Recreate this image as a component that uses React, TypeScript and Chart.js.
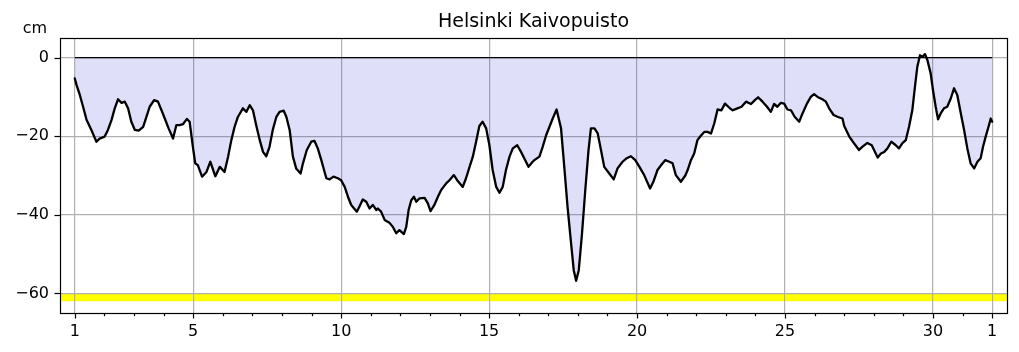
import React, { useEffect, useRef } from 'react';
import { Chart, registerables } from 'chart.js';

Chart.register(...registerables);

const chartTitle = 'Helsinki Kaivopuisto';
const unitLabel = 'cm';

// time in days of month (1 .. 32 = 1st of next month)
const days = [
  1.00, 1.06, 1.17, 1.28, 1.40, 1.56, 1.73, 1.84, 2.01, 2.12, 2.24, 2.35, 2.46, 2.58, 2.69, 2.80, 2.91,
  3.03, 3.16, 3.31, 3.42, 3.53, 3.68, 3.81, 3.93, 4.04, 4.17, 4.32, 4.43, 4.54, 4.66, 4.79, 4.88, 4.99,
  5.07, 5.16, 5.30, 5.45, 5.58, 5.75, 5.90, 6.06, 6.18, 6.29, 6.40, 6.51, 6.68, 6.80, 6.91, 7.02, 7.13,
  7.25, 7.36, 7.47, 7.58, 7.69, 7.81, 7.92, 8.06, 8.15, 8.26, 8.37, 8.48, 8.63, 8.71, 8.84, 8.99, 9.10,
  9.21, 9.33, 9.50, 9.61, 9.74, 9.89, 10.00, 10.12, 10.23, 10.34, 10.53, 10.62, 10.73, 10.85, 10.96, 11.07,
  11.19, 11.24, 11.35, 11.47, 11.63, 11.75, 11.86, 11.97, 12.12, 12.20, 12.28, 12.37, 12.46, 12.54, 12.65,
  12.82, 12.93, 13.02, 13.15, 13.27, 13.38, 13.55, 13.66, 13.81, 13.92, 14.11, 14.22, 14.34, 14.45, 14.56,
  14.67, 14.78, 14.90, 15.01, 15.12, 15.24, 15.35, 15.46, 15.57, 15.69, 15.80, 15.95, 16.08, 16.22, 16.33,
  16.47, 16.53, 16.70, 16.81, 16.93, 17.04, 17.15, 17.28, 17.43, 17.54, 17.65, 17.77, 17.86, 17.94, 18.03,
  18.14, 18.25, 18.36, 18.44, 18.56, 18.67, 18.78, 18.89, 19.06, 19.21, 19.34, 19.51, 19.65, 19.79, 19.94,
  20.08, 20.24, 20.44, 20.55, 20.69, 20.81, 20.95, 21.09, 21.20, 21.31, 21.48, 21.63, 21.71, 21.82, 21.93,
  22.04, 22.14, 22.27, 22.38, 22.50, 22.61, 22.72, 22.85, 22.97, 23.11, 23.23, 23.39, 23.53, 23.68, 23.85,
  23.98, 24.09, 24.24, 24.39, 24.52, 24.63, 24.74, 24.86, 24.97, 25.08, 25.20, 25.33, 25.48, 25.59, 25.74,
  25.87, 25.98, 26.10, 26.26, 26.38, 26.49, 26.64, 26.79, 26.94, 27.00, 27.17, 27.33, 27.50, 27.61, 27.78,
  27.93, 28.04, 28.13, 28.24, 28.35, 28.46, 28.59, 28.74, 28.85, 28.96, 29.08, 29.19, 29.30, 29.39, 29.47,
  29.56, 29.64, 29.73, 29.81, 29.92, 30.00, 30.09, 30.17, 30.26, 30.37, 30.48, 30.60, 30.71, 30.82, 30.94,
  31.05, 31.16, 31.27, 31.39, 31.50, 31.61, 31.69, 31.78, 31.89, 31.95, 32.00,
];

// sea level, cm
const levels = [
  -5.3, -7.0, -9.5, -12.5, -15.9, -18.4, -21.4, -20.6, -20.1, -18.4, -15.9, -12.9, -10.6, -11.5, -11.2, -12.9, -16.3,
  -18.4, -18.6, -17.6, -15.1, -12.5, -10.8, -11.2, -13.4, -15.5, -18.0, -20.6, -17.2, -17.2, -16.9, -15.6, -16.3, -22.7,
  -26.9, -27.4, -30.3, -29.1, -26.5, -30.2, -27.8, -29.1, -25.2, -21.0, -17.6, -15.1, -12.9, -13.8, -12.1, -13.4, -17.2,
  -21.0, -24.0, -25.1, -22.7, -18.4, -15.1, -13.8, -13.5, -15.1, -18.4, -25.2, -28.2, -29.5, -26.9, -23.5, -21.4, -21.2,
  -23.1, -26.1, -30.7, -31.0, -30.3, -30.7, -31.2, -32.9, -35.4, -37.5, -39.2, -37.9, -36.1, -36.7, -38.4, -37.5,
  -38.8, -38.4, -39.2, -41.3, -42.0, -43.1, -44.7, -43.9, -44.9, -43.1, -38.8, -36.3, -35.4, -36.7, -35.8,
  -35.7, -37.1, -39.1, -37.5, -35.4, -33.7, -32.0, -31.2, -29.9, -31.2, -32.9, -30.7, -27.8, -25.2, -21.4,
  -17.4, -16.3, -18.0, -22.3, -28.6, -32.9, -34.4, -32.9, -28.6, -25.2, -23.1, -22.3, -24.0, -26.1, -27.8,
  -26.5, -26.1, -25.2, -22.7, -19.7, -17.6, -15.5, -13.2, -18.0, -27.8, -37.9, -47.3, -54.1, -56.8, -54.1,
  -44.7, -33.7, -23.5, -18.0, -18.0, -19.3, -23.5, -27.8, -29.5, -31.0, -28.2, -26.5, -25.6, -25.1, -26.1,
  -27.8, -29.9, -33.3, -31.6, -28.6, -27.4, -26.1, -26.5, -26.9, -29.9, -31.6, -30.0, -28.6, -26.1, -24.4,
  -21.0, -20.0, -18.9, -18.9, -19.3, -16.7, -13.2, -13.4, -11.7, -12.7, -13.4, -12.9, -12.5, -11.2, -11.8,
  -10.8, -10.1, -11.2, -12.5, -13.8, -11.8, -12.5, -11.5, -11.7, -13.2, -13.4, -15.1, -16.3, -14.2, -11.7,
  -10.0, -9.3, -10.0, -10.6, -11.2, -12.9, -14.6, -15.1, -15.5, -17.4, -20.1, -21.8, -23.5, -22.7, -21.7,
  -22.3, -24.0, -25.4, -24.4, -24.0, -23.1, -21.4, -22.3, -23.1, -21.8, -21.0, -17.6, -13.4, -7.4, -2.3,
  0.6, 0.2, 0.9, -0.6, -4.0, -8.3, -12.5, -15.7, -14.2, -12.9, -12.5, -10.4, -7.8, -9.5, -14.2,
  -18.4, -23.1, -26.9, -28.2, -26.5, -25.6, -22.7, -20.1, -17.2, -15.5, -16.3,
];

const dayTicks = [1, 2, 3, 4, 5, 6, 7, 8, 9, 10, 11, 12, 13, 14, 15, 16, 17, 18, 19, 20, 21, 22, 23, 24, 25, 26, 27, 28, 29, 30, 31, 32];
const majorDays = [1, 5, 10, 15, 20, 25, 30, 32];
const majorLabels = ['1', '5', '10', '15', '20', '25', '30', '1'];
const yTicks = [-60, -40, -20, 0];
const yellowBand = [-62, -60];
const xRange = [0.5, 32.5];
const yRange = [-65, 5];

const FONT = "'DejaVu Sans', sans-serif";

const decor = {
  id: 'decor',
  beforeDraw(chart: any) {
    const { ctx, chartArea: a, scales } = chart;
    const y = scales.y;
    const yTop = y.getPixelForValue(yellowBand[1]);
    const yBot = y.getPixelForValue(yellowBand[0]);
    ctx.save();
    ctx.fillStyle = '#ffff00';
    ctx.fillRect(a.left, yTop, a.right - a.left, yBot - yTop);
    ctx.restore();
  },
  afterDraw(chart: any) {
    const { ctx, chartArea: a, scales } = chart;
    const x = scales.x;
    const y = scales.y;
    ctx.save();
    ctx.strokeStyle = '#000';
    ctx.lineWidth = 1.2;
    dayTicks.forEach((d) => {
      const px = Math.round(x.getPixelForValue(d)) + 0.5;
      const len = majorDays.includes(d) ? 5.5 : 3.2;
      ctx.beginPath();
      ctx.moveTo(px, a.bottom);
      ctx.lineTo(px, a.bottom + len);
      ctx.stroke();
    });
    yTicks.forEach((v) => {
      const py = Math.round(y.getPixelForValue(v)) + 0.5;
      ctx.beginPath();
      ctx.moveTo(a.left - 5.5, py);
      ctx.lineTo(a.left, py);
      ctx.stroke();
    });
    ctx.strokeRect(Math.round(a.left) + 0.5, Math.round(a.top) + 0.5, Math.round(a.right - a.left), Math.round(a.bottom - a.top));
    ctx.fillStyle = '#000';
    ctx.font = `19px ${FONT}`;
    ctx.textAlign = 'center';
    ctx.textBaseline = 'alphabetic';
    ctx.fillText(chartTitle, (a.left + a.right) / 2, 27);
    ctx.font = `16px ${FONT}`;
    ctx.fillText(unitLabel, 35, 33);
    ctx.restore();
  },
};

export default function App() {
  const ref = useRef<HTMLCanvasElement>(null);
  useEffect(() => {
    const chart = new Chart(ref.current as HTMLCanvasElement, {
      type: 'line',
      data: {
        datasets: [
          {
            data: days.map((d, i) => ({ x: d, y: levels[i] })),
            borderColor: '#000',
            borderWidth: 2.3,
            borderJoinStyle: 'round',
            borderCapStyle: 'round',
            pointRadius: 0,
            tension: 0,
            fill: { value: 0 },
            backgroundColor: 'rgba(30,30,220,0.14)',
            order: 1,
          },
          {
            data: [
              { x: days[0], y: 0 },
              { x: days[days.length - 1], y: 0 },
            ],
            borderColor: '#000',
            borderWidth: 1.3,
            pointRadius: 0,
            fill: false,
            order: 0,
          },
        ],
      },
      options: {
        animation: false,
        responsive: true,
        maintainAspectRatio: false,
        layout: { padding: { top: 38, right: 12, left: 0, bottom: 0 } },
        plugins: { legend: { display: false }, tooltip: { enabled: false }, title: { display: false } },
        scales: {
          x: {
            type: 'linear',
            min: xRange[0],
            max: xRange[1],
            afterBuildTicks: (s: any) => {
              s.ticks = dayTicks.map((v) => ({ value: v }));
            },
            afterFit: (s: any) => {
              s.height = 39;
            },
            border: { display: false },
            grid: {
              drawTicks: false,
              lineWidth: 1.2,
              color: (c: any) => (c.tick && majorDays.includes(c.tick.value) ? '#b0b0b0' : 'rgba(0,0,0,0)'),
            },
            ticks: {
              autoSkip: false,
              maxRotation: 0,
              padding: 9,
              color: '#000',
              font: { family: FONT, size: 16 },
              callback: (v: any) => {
                const i = majorDays.indexOf(Number(v));
                return i >= 0 ? majorLabels[i] : '';
              },
            },
          },
          y: {
            type: 'linear',
            min: yRange[0],
            max: yRange[1],
            afterBuildTicks: (s: any) => {
              s.ticks = yTicks.map((v) => ({ value: v }));
            },
            afterFit: (s: any) => {
              s.width = 60;
            },
            border: { display: false },
            grid: { drawTicks: false, lineWidth: 1.2, color: '#b0b0b0' },
            ticks: {
              padding: 11,
              color: '#000',
              font: { family: FONT, size: 16 },
              callback: (v: any) => (Number(v) < 0 ? '\u2212' + Math.abs(Number(v)) : String(v)),
            },
          },
        },
      },
      plugins: [decor],
    });
    return () => chart.destroy();
  }, []);
  return (
    <div style={{ position: 'absolute', left: 0, top: 0, width: 1019, height: 352 }}>
      <canvas ref={ref} />
    </div>
  );
}
